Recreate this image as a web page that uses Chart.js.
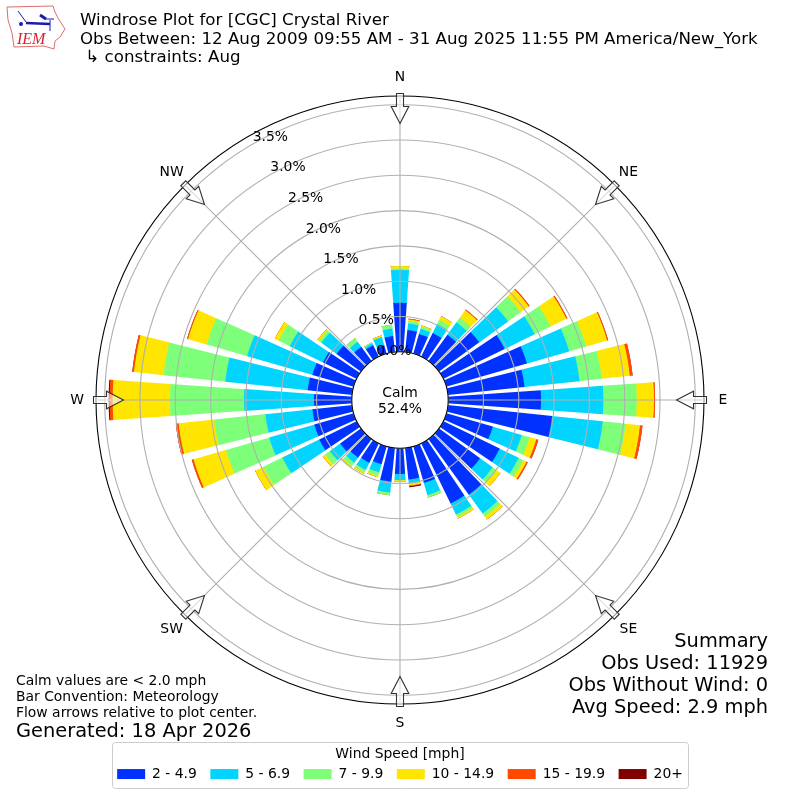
<!DOCTYPE html>
<html>
<head>
<meta charset="utf-8">
<title>Windrose Plot</title>
<script src="https://cdn.jsdelivr.net/npm/chart.js@4/dist/chart.umd.js"></script>
<style>
  html, body { margin: 0; padding: 0; background: #fff; }
  canvas { display: block; }
</style>
</head>
<body>
<canvas id="rose" width="800" height="800"></canvas>
<script>
// percent of observations per direction, clockwise from N in 10 degree steps
const speed2to5 = [.695,.313,.289,.371,.46,.706,.966,1.187,1.09,1.315,1.484,.685,.888,.72,.975,.95,.537,.449,.365,.48,.263,.305,.327,.365,.59,.58,.564,.535,.632,.608,.53,.428,.249,.18,.125,.227];
const speed5to7 = [.465,.095,.077,.143,.217,.504,.474,.623,.784,.882,.721,.425,.299,.22,.331,.173,.18,.058,.085,.155,.121,.114,.089,.179,.583,.665,.67,.992,1.173,.962,.525,.267,.088,.03,.12,.107];
const speed7to10 = [.02,.034,.034,.066,.083,.22,.25,.25,.316,.473,.325,.117,.073,.065,.054,.037,.035,.003,.005,.038,.048,.037,.056,.082,.297,.635,.729,1.048,.88,.595,.173,.04,.061,.015,0,.056];
const speed10to15 = [.035,.023,.015,.059,.127,.14,.25,.31,.4,.245,.205,.099,.05,.07,.05,.025,0,.025,.02,0,.023,.024,.023,.044,.13,.48,.507,.812,.42,.275,.062,.027,0,0,.021,0];
const speed15to20 = [0,.01,0,0,.013,.015,.015,.015,.04,.015,.035,.029,.02,0,0,0,0,.012,0,0,0,0,0,0,0,.025,.04,.043,.025,.015,0,0,0,0,0,0];
const speed20up = [0,0,0,0,0,0,0,0,0,0,0,0,0,0,0,0,0,.013,0,0,0,0,0,0,0,0,0,.015,0,0,0,0,0,0,0,0];

const speedBands = [speed2to5, speed5to7, speed7to10, speed10to15, speed15to20, speed20up];
const speedLabels = ['2 - 4.9', '5 - 6.9', '7 - 9.9', '10 - 14.9', '15 - 19.9', '20+'];
const speedColors = ['#0031ff', '#00d4ff', '#7dff7a', '#ffe500', '#ff4800', '#800000'];

const compassLabels = ['N', 'NE', 'E', 'SE', 'S', 'SW', 'W', 'NW'];
const tickValues = [0, 0.5, 1, 1.5, 2, 2.5, 3, 3.5];
const titleLines = ['Windrose Plot for [CGC] Crystal River', 'Obs Between: 12 Aug 2009 09:55 AM - 31 Aug 2025 11:55 PM America/New_York', ' \u21b3 constraints: Aug'];
const summaryLines = ['Summary', 'Obs Used: 11929', 'Obs Without Wind: 0', 'Avg Speed: 2.9 mph'];
const noteLines = ['Calm values are < 2.0 mph', 'Bar Convention: Meteorology', 'Flow arrows relative to plot center.'];
const generatedText = 'Generated: 18 Apr 2026';
const calmLines = ['Calm', '52.4%'];

const FONT = '"DejaVu Sans"';
const R_MIN = -0.683, R_MAX = 3.623;
const BAR_DEG = 8, GAP_DEG = 2;

Chart.defaults.font.family = FONT;
Chart.defaults.color = '#000';

// each band reaches up to the running total, stackBands cuts out its inner part
function buildDatasets() {
    let totals = new Array(36).fill(0);
    return speedBands.map((band, b) => {
        totals = totals.map((t, i) => t + band[i]);
        const data = [0];               // first slot only rotates the start to -4 degrees
        totals.forEach(t => data.push(t, 0));
        return {
            label: speedLabels[b],
            data: data,
            borderWidth: 0,
            angle: ctx => ctx.dataIndex === 0 ? 360 - BAR_DEG / 2 : (ctx.dataIndex % 2 ? BAR_DEG : GAP_DEG),
            backgroundColor: ctx => ctx.dataIndex % 2 ? speedColors[b] : 'rgba(0,0,0,0)'
        };
    });
}

function drawText(ctx, text, x, y, size, align) {
    ctx.font = size + 'px ' + FONT;
    ctx.textAlign = align || 'left';
    ctx.textBaseline = 'middle';
    ctx.fillStyle = '#000';
    ctx.fillText(text, x, y);
}

function drawArrow(ctx, cx, cy, deg) {
    ctx.save();
    ctx.translate(cx, cy);
    ctx.rotate(deg * Math.PI / 180);
    ctx.beginPath();
    ctx.moveTo(-3.5, -306.5);
    ctx.lineTo(3.5, -306.5);
    ctx.lineTo(3.5, -293.5);
    ctx.lineTo(8.8, -293.5);
    ctx.lineTo(0, -276.5);
    ctx.lineTo(-8.8, -293.5);
    ctx.lineTo(-3.5, -293.5);
    ctx.closePath();
    ctx.fillStyle = 'rgba(255,255,255,0.55)';
    ctx.fill();
    ctx.strokeStyle = '#333';
    ctx.lineWidth = 1.1;
    ctx.stroke();
    ctx.restore();
}

function drawLogo(ctx) {
    ctx.save();
    ctx.beginPath();
    [[7,7],[53,6],[55,12],[58,18],[65,29],[60,37],[55,41],[54,49],[44,46],[14,47],[12,33],[8,20]].forEach((p, i) => {
        if (i) ctx.lineTo(p[0], p[1]); else ctx.moveTo(p[0], p[1]);
    });
    ctx.closePath();
    ctx.fillStyle = '#fff';
    ctx.fill();
    ctx.strokeStyle = '#e06a6a';
    ctx.lineWidth = 1;
    ctx.stroke();
    ctx.strokeStyle = '#1a1ab0';
    ctx.lineWidth = 2.5;
    ctx.beginPath();
    ctx.moveTo(26, 23);
    ctx.lineTo(50, 24);
    ctx.stroke();
    ctx.lineWidth = 1;
    ctx.beginPath();
    ctx.moveTo(18, 11);
    ctx.lineTo(26, 22);
    ctx.moveTo(45, 19);
    ctx.lineTo(54, 19);
    ctx.moveTo(50, 20);
    ctx.lineTo(50, 31);
    ctx.stroke();
    ctx.lineWidth = 3;
    ctx.beginPath();
    ctx.moveTo(40, 15);
    ctx.lineTo(46, 19);
    ctx.stroke();
    ctx.fillStyle = '#1a1ab0';
    ctx.beginPath();
    ctx.arc(21, 24, 2, 0, Math.PI * 2);
    ctx.fill();
    ctx.font = 'italic 16px "Liberation Serif"';
    ctx.textAlign = 'left';
    ctx.textBaseline = 'alphabetic';
    ctx.fillStyle = '#d8232a';
    ctx.fillText('IEM', 17, 44);
    ctx.restore();
}

// start every band where the one below it ends, so colours do not fringe at the sides
const stackBands = {
    id: 'stackBands',
    afterDatasetsUpdate(chart) {
        speedBands.forEach((band, b) => {
            if (b === 0) return;
            const below = chart.getDatasetMeta(b - 1).data;
            chart.getDatasetMeta(b).data.forEach((arc, i) => {
                arc.innerRadius = Math.max(below[i].outerRadius - 0.5, 0);
            });
        });
    }
};

// legend frame sits behind the library's legend
const legendFrame = {
    id: 'legendFrame',
    beforeDraw(chart) {
        const ctx = chart.ctx;
        ctx.save();
        ctx.beginPath();
        ctx.roundRect(112.5, 742.5, 576, 46, 3);
        ctx.strokeStyle = '#ccc';
        ctx.lineWidth = 1;
        ctx.stroke();
        ctx.restore();
    }
};

const roseDecor = {
    id: 'roseDecor',
    afterDraw(chart) {
        const ctx = chart.ctx;
        const scale = chart.scales.r;
        const cx = scale.xCenter, cy = scale.yCenter;
        const holeR = scale.getDistanceFromCenterForValue(0);
        ctx.save();

        // calm hole in the middle
        ctx.beginPath();
        ctx.arc(cx, cy, holeR, 0, Math.PI * 2);
        ctx.fillStyle = '#fff';
        ctx.fill();
        ctx.strokeStyle = '#000';
        ctx.lineWidth = 1.1;
        ctx.stroke();
        drawText(ctx, calmLines[0], cx, cy - 7, 13.9, 'center');
        drawText(ctx, calmLines[1], cx, cy + 9, 13.9, 'center');

        // flow arrows and compass labels
        compassLabels.forEach((label, i) => {
            const deg = i * 45;
            drawArrow(ctx, cx, cy, deg);
            const a = deg * Math.PI / 180;
            drawText(ctx, label, cx + 323 * Math.sin(a), cy - 323 * Math.cos(a) + 0.5, 13.9, 'center');
        });

        // radial tick labels run along a 30 degree spoke
        tickValues.forEach(v => {
            const r = scale.getDistanceFromCenterForValue(v);
            drawText(ctx, v.toFixed(1) + '%', cx - r * 0.5 + 18, cy - r * 0.866 - 7, 13.9, 'center');
        });

        titleLines.forEach((line, i) => drawText(ctx, line, 80, 21 + i * 18.5, 16.67));
        summaryLines.forEach((line, i) => drawText(ctx, line, 768, 641.5 + i * 22, 19.4, 'right'));
        noteLines.forEach((line, i) => drawText(ctx, line, 16, 681.5 + i * 15.8, 13.9));
        drawText(ctx, generatedText, 16, 731.5, 19.4);
        drawLogo(ctx);
        ctx.restore();
    }
};

new Chart(document.getElementById('rose'), {
    type: 'polarArea',
    data: {
        labels: new Array(72).fill(''),   // 5 degree slots, spokes are picked out below
        datasets: buildDatasets()
    },
    options: {
        responsive: false,
        animation: false,
        devicePixelRatio: 1,
        layout: { padding: { top: 96, left: 96, right: 96, bottom: 9 } },
        scales: {
            r: {
                min: R_MIN,
                max: R_MAX,
                startAngle: 0,
                ticks: { display: false, stepSize: 0.5 },
                pointLabels: { display: false },
                grid: {
                    z: 1,
                    circular: true,
                    lineWidth: 1.1,
                    color: ctx => ctx.tick && ctx.tick.value === R_MAX ? '#000' : '#b0b0b0'
                },
                angleLines: {
                    display: true,
                    color: '#b0b0b0',
                    lineWidth: ctx => ctx.index % 9 === 0 ? 1.1 : 0
                }
            }
        },
        plugins: {
            tooltip: { enabled: false },
            title: { display: false },
            legend: {
                position: 'bottom',
                onClick: null,
                title: {
                    display: true,
                    text: 'Wind Speed [mph]',
                    font: { size: 13.9 },
                    padding: { top: 42, bottom: -11 }
                },
                labels: {
                    boxWidth: 28,
                    boxHeight: 10,
                    padding: 13.5,
                    font: { size: 13.9 },
                    generateLabels: () => speedLabels.map((text, i) => ({
                        text: text,
                        fillStyle: speedColors[i],
                        strokeStyle: speedColors[i],
                        lineWidth: 0,
                        hidden: false,
                        index: i
                    }))
                }
            }
        }
    },
    plugins: [stackBands, legendFrame, roseDecor]
});
</script>
</body>
</html>
